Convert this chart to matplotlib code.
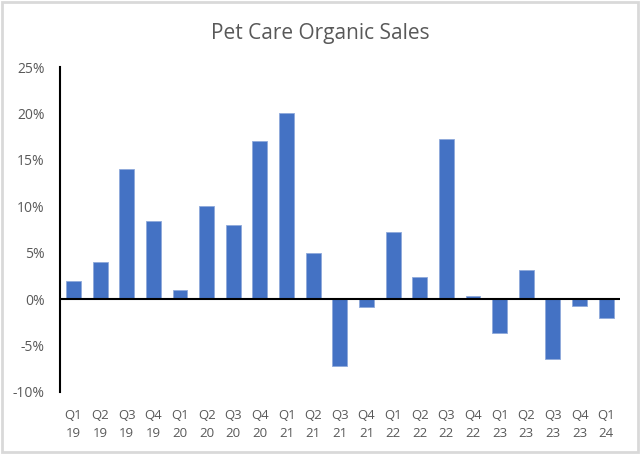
import matplotlib.pyplot as plt
from matplotlib.patches import Rectangle

quarters = ['Q1\n19', 'Q2\n19', 'Q3\n19', 'Q4\n19',
            'Q1\n20', 'Q2\n20', 'Q3\n20', 'Q4\n20',
            'Q1\n21', 'Q2\n21', 'Q3\n21', 'Q4\n21',
            'Q1\n22', 'Q2\n22', 'Q3\n22', 'Q4\n22',
            'Q1\n23', 'Q2\n23', 'Q3\n23', 'Q4\n23',
            'Q1\n24']
growth = [2.0, 4.0, 14.0, 8.4,
          1.0, 10.0, 8.0, 17.0,
          20.0, 5.0, -7.2, -0.8,
          7.2, 2.4, 17.3, 0.3,
          -3.7, 3.1, -6.5, -0.7,
          -2.0]
y_ticks = [-10, -5, 0, 5, 10, 15, 20, 25]

plt.rcParams['font.family'] = ['Open Sans', 'DejaVu Sans']
grey = '#595959'

fig = plt.figure(figsize=(6.4, 4.54), dpi=100)
ax = fig.add_axes([0.094, 0.1366, 0.874, 0.7158])

x = list(range(len(quarters)))
ax.bar(x, growth, width=0.56, color='#4472C4', edgecolor='#8EA9DB', linewidth=0.6, zorder=2)
ax.axhline(0, color='black', linewidth=1.5, zorder=3)

ax.set_xlim(-0.5, len(quarters) - 0.5)
ax.set_ylim(-10, 25)
ax.set_yticks(y_ticks)
ax.set_yticklabels(['%d%%' % t for t in y_ticks], color=grey, fontsize=10)
ax.set_xticks(x)
ax.set_xticklabels(quarters, color=grey, fontsize=9.5, linespacing=1.55)
ax.tick_params(axis='both', length=0)
ax.tick_params(axis='y', pad=11)
ax.tick_params(axis='x', pad=12)

for side in ['top', 'right', 'bottom']:
    ax.spines[side].set_visible(False)
ax.spines['left'].set_color('black')
ax.spines['left'].set_linewidth(1.5)

fig.text(0.5, 0.927, 'Pet Care Organic Sales', ha='center', va='center',
         fontsize=15, color=grey)

fig.patches.append(Rectangle((0.003, 0.004), 0.994, 0.992, transform=fig.transFigure,
                             fill=False, edgecolor='#D9D9D9', linewidth=2))

fig.savefig('out.png', dpi=100)
